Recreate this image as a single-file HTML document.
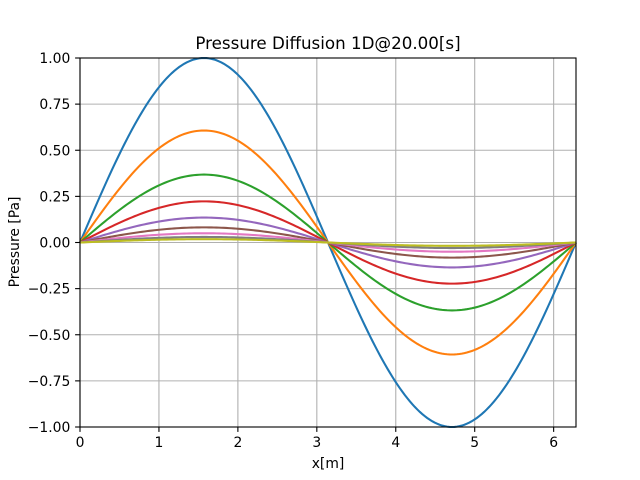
<!DOCTYPE html>
<html><head><meta charset="utf-8"><style>
body{margin:0;background:#fff}
svg{display:block;font-family:"DejaVu Sans","Liberation Sans",sans-serif}
</style></head><body>
<svg id="chart" width="640" height="480" viewBox="0 0 640 480">
<rect width="640" height="480" fill="#fff"/>
<g id="grid"></g>
<g id="curves"></g>
<rect x="80" y="58" width="496" height="369" fill="none" stroke="#000" stroke-width="1.1"/>
<g id="ticks"></g>
<text x="328" y="49" font-size="16.7" text-anchor="middle">Pressure Diffusion 1D@20.00[s]</text>
<text x="328" y="468" font-size="13.9" text-anchor="middle">x[m]</text>
<text x="19" y="242" font-size="13.9" text-anchor="middle" transform="rotate(-90 19 242)">Pressure [Pa]</text>
</svg>
<script>
const xTicks=[0,1,2,3,4,5,6];
const yTicks=[-1,-0.75,-0.5,-0.25,0,0.25,0.5,0.75,1];
const yTickLabels=["−1.00","−0.75","−0.50","−0.25","0.00","0.25","0.50","0.75","1.00"];
const amplitudes=[1.0,0.607,0.368,0.223,0.135,0.082,0.050,0.030,0.018];
const colors=["#1f77b4","#ff7f0e","#2ca02c","#d62728","#9467bd","#8c564b","#e377c2","#7f7f7f","#bcbd22"];
const X0=80,X1=576,Y0=427,Y1=58,XMAX=2*Math.PI;
const sx=v=>X0+(v/XMAX)*(X1-X0);
const sy=v=>Y0-(v+1)/2*(Y0-Y1);
const NS="http://www.w3.org/2000/svg";
const grid=document.getElementById('grid'),ticks=document.getElementById('ticks'),curves=document.getElementById('curves');
function mk(tag,attrs,parent){const e=document.createElementNS(NS,tag);for(const k in attrs)e.setAttribute(k,attrs[k]);parent.appendChild(e);return e;}
xTicks.forEach(t=>{const x=sx(t);
const g=mk('line',{x1:x,x2:x,y1:Y1,y2:Y0,stroke:'#b0b0b0','stroke-width':1.1},grid);


const tk=mk('line',{x1:x,x2:x,y1:Y0,y2:Y0+4.9,stroke:'#000','stroke-width':1.1},ticks);


const l=mk('text',{x:x,y:Y0+20,'font-size':13.9,'text-anchor':'middle'},ticks);l.textContent=t;

});
yTicks.forEach((t,i)=>{const y=sy(t);
const g=mk('line',{x1:X0,x2:X1,y1:y,y2:y,stroke:'#b0b0b0','stroke-width':1.1},grid);


const tk=mk('line',{x1:X0-4.9,x2:X0,y1:y,y2:y,stroke:'#000','stroke-width':1.1},ticks);


const l=mk('text',{x:X0-9.7,y:y+5,'font-size':13.9,'text-anchor':'end'},ticks);l.textContent=yTickLabels[i];

});
amplitudes.forEach((a,i)=>{let d='';const N=200;
for(let k=0;k<=N;k++){const xv=XMAX*k/N;d+=(k?'L':'M')+sx(xv).toFixed(2)+','+sy(a*Math.sin(xv)).toFixed(2);}
const p=mk('path',{d:d,fill:'none',stroke:colors[i],'stroke-width':2.08},curves);

});
</script>
</body></html>
